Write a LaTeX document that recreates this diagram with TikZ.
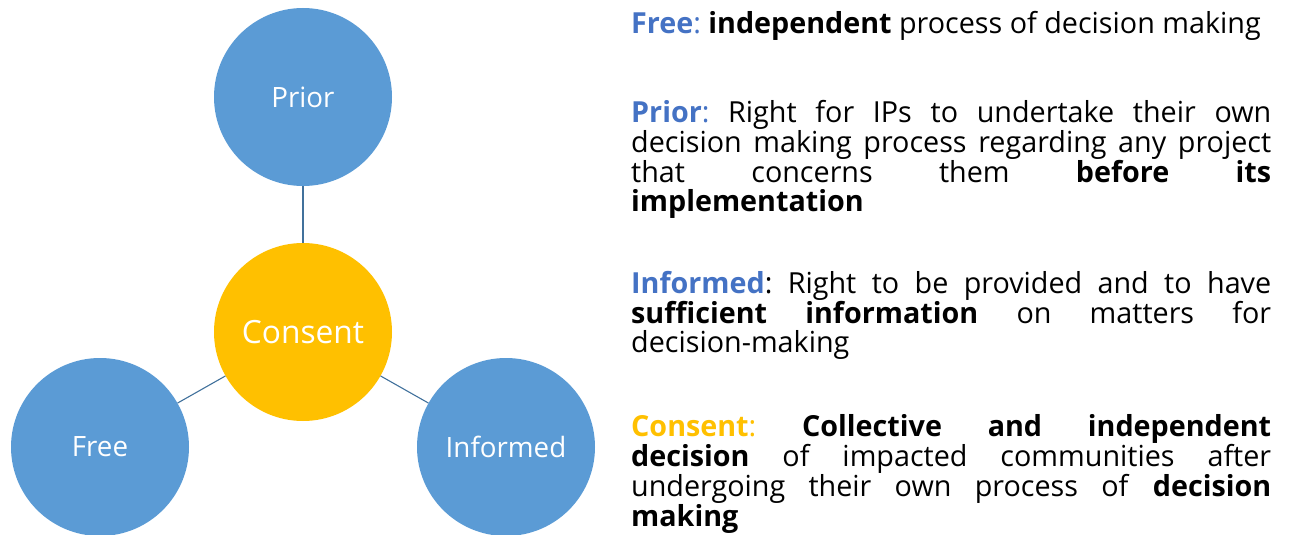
\documentclass[tikz,border=0pt]{standalone}
\usepackage{fontspec}
\setmainfont{Open Sans}[FakeStretch=0.99]
\frenchspacing
\definecolor{petal}{HTML}{5B9BD5}
\definecolor{core}{HTML}{FFC000}
\definecolor{link}{HTML}{41719C}
\definecolor{keyblue}{HTML}{4472C4}
\newcommand\keyword[2]{\textcolor{#1}{\textbf{#2}}}
\tikzstyle{petal}=[circle, fill=petal, minimum size=178pt, inner sep=0pt,
text=white, font=\fontsize{28}{32}\selectfont]
\tikzstyle{core}=[circle, fill=core, minimum size=178pt, inner sep=0pt,
text=white, font=\fontsize{32}{38}\selectfont]
\tikzstyle{para}=[anchor=north west, text width=640pt, align=justify, inner sep=0pt,
font=\fontsize{29}{28.8}\selectfont]

\begin{document}
\begin{tikzpicture}[x=1pt,y=-1pt]
\useasboundingbox (0,0) rectangle (1291,535);
\node[petal](prior)at (303,97){Prior};
\node[core](consent)at (303,332){Consent};
\node[petal](free)at (100,447){Free};
\node[petal](informed)at (506,447){Informed};

\draw [link, line width=1.1pt](prior) -- (consent);
\draw [link, line width=1.1pt](consent) -- (free);
\draw [link, line width=1.1pt](consent) -- (informed);

\node[para](freetext)at (631,11){\keyword{keyblue}{Free}\textcolor{keyblue}{:} \textbf{independent} process of decision making};
\node[para](priortext)at (631,100){\keyword{keyblue}{Prior}\textcolor{keyblue}{:} Right for IPs to undertake their own\linebreak
decision making process regarding any project\linebreak
that concerns them \textbf{before its}\linebreak
\textbf{implementation}};
\node[para](informedtext)at (631,271){\keyword{keyblue}{Informed}: Right to be provided and to have\linebreak
\textbf{sufficient information} on matters for\linebreak
decision-making};
\node[para](consenttext)at (631,414){\keyword{core}{Consent}\textcolor{core}{:} \textbf{Collective and independent}\linebreak
\textbf{decision} of impacted communities after\linebreak
undergoing their own process of \textbf{decision}\linebreak
\textbf{making}};
\end{tikzpicture}
\end{document}
